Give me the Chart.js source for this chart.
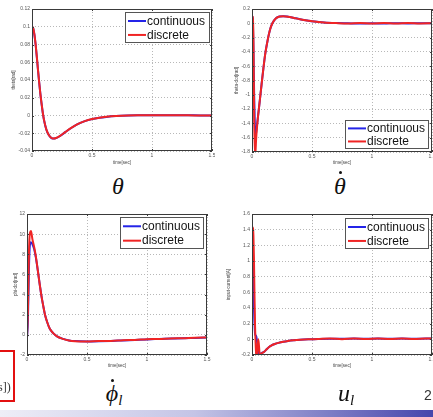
<!DOCTYPE html>
<html>
<head>
<meta charset="utf-8">
<script src="https://cdn.jsdelivr.net/npm/chart.js@4.4.1/dist/chart.umd.min.js"></script>
<style>
    body { margin: 0; width: 433px; height: 417px; position: relative; overflow: hidden; background: #fff; }
    canvas { position: absolute; }
    .sym { position: absolute; font-family: "Liberation Serif", "DejaVu Serif", serif; font-style: italic; font-size: 24px; color: #111; transform: translate(-50%, -50%); white-space: nowrap; }
    .sym sub { font-size: 15px; vertical-align: -4px; }
    .dot { position: absolute; width: 3px; height: 3px; border-radius: 50%; background: #111; }
    #bar { position: absolute; left: 0; top: 410px; width: 433px; height: 7px; background: linear-gradient(90deg, #eeeef7 0%, #c4c4e6 45%, #4646ac 100%); }
    #note { position: absolute; left: -12px; top: 350px; width: 23px; height: 48px; border: 2px solid #e31010; }
    #noteText { position: absolute; left: -2px; top: 380px; font-family: "Liberation Serif", serif; font-size: 12px; color: #333; }
    #page { position: absolute; left: 424px; top: 387px; font-family: "Liberation Sans", Arial, sans-serif; font-size: 14px; color: #333; }
</style>
</head>
<body>
<canvas id="c1" width="215" height="172" style="left:0;top:0"></canvas>
<canvas id="c2" width="217" height="172" style="left:216px;top:0"></canvas>
<canvas id="c3" width="215" height="172" style="left:0;top:200px"></canvas>
<canvas id="c4" width="217" height="172" style="left:216px;top:200px"></canvas>

<div class="sym" style="left:118px;top:186px">θ</div>
<div class="sym" style="left:340px;top:186px">θ</div>
<div class="dot" style="left:339px;top:171px"></div>
<div class="sym" style="left:114px;top:394px">ϕ<sub>l</sub></div>
<div class="dot" style="left:111px;top:379px"></div>
<div class="sym" style="left:346px;top:394px">u<sub>l</sub></div>
<div id="note"></div>
<div id="noteText">s])</div>
<div id="page">2</div>
<div id="bar"></div>

<script>
const seriesLabels = ["continuous", "discrete"];

// theta [rad]
const timeTheta = [0, 0.01, 0.02, 0.03, 0.04, 0.05, 0.06, 0.07, 0.08, 0.09, 0.1, 0.12, 0.14, 0.16, 0.18, 0.2, 0.24, 0.28, 0.33, 0.38, 0.44, 0.5, 0.56, 0.62, 0.7, 0.8, 0.9, 1.0, 1.1, 1.2, 1.3, 1.4, 1.5];
const thetaCont = [0.1, 0.098, 0.091, 0.08, 0.066, 0.051, 0.037, 0.024, 0.013, 0.003, -0.005, -0.016, -0.022, -0.0252, -0.026, -0.0255, -0.0225, -0.0185, -0.0138, -0.0098, -0.0064, -0.0041, -0.0026, -0.0016, -0.0007, -0.0001, 0.0002, 0.0004, 0.0004, 0.0003, 0.0002, 0.0001, 0.0];
const thetaDisc = [0.1, 0.0985, 0.0915, 0.0805, 0.0665, 0.0515, 0.0372, 0.0242, 0.0131, 0.0031, -0.0049, -0.0159, -0.0219, -0.0251, -0.0259, -0.0254, -0.0224, -0.0184, -0.0137, -0.0097, -0.0063, -0.004, -0.0025, -0.0015, -0.0006, 0.0, 0.0002, 0.0003, 0.0004, 0.0002, 0.0002, 0.0, 0.0];

// theta-dot
const timeThetaDot = [0, 0.006, 0.012, 0.018, 0.024, 0.029, 0.035, 0.042, 0.05, 0.065, 0.08, 0.095, 0.11, 0.13, 0.15, 0.17, 0.2, 0.23, 0.26, 0.3, 0.35, 0.4, 0.46, 0.52, 0.6, 0.7, 0.8, 0.9, 1.0, 1.1, 1.2, 1.3, 1.4, 1.5];
const thetaDotCont = [0.1, 0.07, -0.35, -1.0, -1.45, -1.57, -1.52, -1.42, -1.3, -1.08, -0.85, -0.63, -0.43, -0.24, -0.09, 0.0, 0.07, 0.095, 0.1, 0.092, 0.075, 0.058, 0.04, 0.025, 0.012, 0.004, 0.0, -0.004, 0.0, -0.003, 0.002, -0.002, 0.0, 0.0];
const thetaDotDisc = [0.1, 0.09, -0.2, -1.3, -1.85, -1.8, -1.6, -1.45, -1.31, -1.08, -0.85, -0.63, -0.43, -0.24, -0.09, 0.0, 0.07, 0.096, 0.1, 0.093, 0.075, 0.057, 0.04, 0.024, 0.012, 0.003, -0.003, 0.004, -0.004, 0.003, -0.003, 0.003, -0.002, 0.0];

// phi-dot
const timePhiDot = [0, 0.008, 0.016, 0.024, 0.033, 0.045, 0.06, 0.075, 0.09, 0.105, 0.12, 0.135, 0.15, 0.17, 0.19, 0.22, 0.25, 0.3, 0.35, 0.4, 0.5, 0.6, 0.7, 0.8, 0.9, 1.0, 1.1, 1.2, 1.3, 1.4, 1.5];
const phiDotCont = [-0.3, 1.5, 6.5, 8.9, 9.2, 9.0, 8.5, 7.6, 6.4, 5.1, 3.9, 2.9, 2.0, 1.2, 0.6, 0.15, -0.15, -0.4, -0.55, -0.62, -0.66, -0.64, -0.6, -0.55, -0.5, -0.45, -0.41, -0.37, -0.33, -0.3, -0.27];
const phiDotDisc = [-0.3, 2.5, 8.0, 10.1, 10.3, 9.5, 8.7, 7.7, 6.4, 5.1, 3.9, 2.9, 2.0, 1.2, 0.6, 0.15, -0.15, -0.4, -0.56, -0.63, -0.66, -0.62, -0.61, -0.53, -0.5, -0.43, -0.41, -0.35, -0.33, -0.28, -0.27];

// input current
const timeU = [0, 0.004, 0.008, 0.012, 0.016, 0.02, 0.025, 0.03, 0.035, 0.04, 0.046, 0.052, 0.058, 0.065, 0.072, 0.08, 0.09, 0.1, 0.12, 0.14, 0.16, 0.19, 0.22, 0.26, 0.3, 0.35, 0.4, 0.47, 0.55, 0.65, 0.75, 0.85, 0.95, 1.05, 1.15, 1.25, 1.35, 1.45, 1.5];
const uCont = [0.1, 0.97, 0.95, 0.8, 0.5, 0.25, 0.08, 0.05, 0.04, 0.0, -0.08, -0.15, -0.19, -0.19, -0.18, -0.175, -0.168, -0.16, -0.13, -0.1, -0.08, -0.06, -0.045, -0.03, -0.02, -0.012, -0.006, 0.0, 0.005, 0.008, 0.006, 0.01, 0.007, 0.01, 0.008, 0.01, 0.008, 0.01, 0.01];
const uDisc = [1.43, 1.43, 1.42, 1.32, 1.05, 0.65, 0.2, -0.05, -0.2, -0.25, -0.1, 0.0, -0.08, -0.2, -0.19, -0.18, -0.17, -0.16, -0.13, -0.1, -0.08, -0.06, -0.045, -0.03, -0.02, -0.012, -0.006, 0.0, 0.004, 0.01, 0.002, 0.012, 0.004, 0.011, 0.003, 0.012, 0.005, 0.011, 0.01];

const xRange = [0, 1.5, 0.5];
const blue = "#2424e8";
const red = "#f02424";
const tickFont = { family: "Liberation Sans, Arial, sans-serif", size: 5 };

// axes box with inward tick marks, like matlab
const framePlugin = {
    id: "frame",
    afterDatasetsDraw(chart) {
        const { ctx, chartArea: a, scales } = chart;
        ctx.save();
        ctx.strokeStyle = "#3a3a3a";
        ctx.lineWidth = 1;
        ctx.strokeRect(a.left + 0.5, a.top + 0.5, a.right - a.left - 1, a.bottom - a.top - 1);
        ctx.beginPath();
        scales.x.ticks.forEach((t) => {
            const px = Math.round(scales.x.getPixelForValue(t.value)) + 0.5;
            ctx.moveTo(px, a.bottom);
            ctx.lineTo(px, a.bottom - 2);
            ctx.moveTo(px, a.top);
            ctx.lineTo(px, a.top + 2);
        });
        scales.y.ticks.forEach((t) => {
            const py = Math.round(scales.y.getPixelForValue(t.value)) + 0.5;
            ctx.moveTo(a.left, py);
            ctx.lineTo(a.left + 2, py);
            ctx.moveTo(a.right, py);
            ctx.lineTo(a.right - 2, py);
        });
        ctx.stroke();
        ctx.restore();
    },
};

// legend drawn inside the axes
const legendPlugin = {
    id: "legendBox",
    afterDraw(chart, args, opts) {
        const { ctx } = chart;
        const { x, y, w, h } = opts;
        ctx.save();
        ctx.fillStyle = "#fff";
        ctx.fillRect(x, y, w, h);
        ctx.strokeStyle = "#555";
        ctx.lineWidth = 1;
        ctx.strokeRect(x + 0.5, y + 0.5, w - 1, h - 1);
        ctx.font = "12px 'Liberation Sans', Arial, sans-serif";
        ctx.textBaseline = "middle";
        chart.data.datasets.forEach((ds, i) => {
            const cy = y + h * (i === 0 ? 0.29 : 0.74);
            ctx.strokeStyle = ds.borderColor;
            ctx.lineWidth = 2;
            ctx.beginPath();
            ctx.moveTo(x + 3, cy);
            ctx.lineTo(x + 21, cy);
            ctx.stroke();
            ctx.fillStyle = "#151515";
            ctx.fillText(ds.label, x + 22, cy + 0.5);
        });
        ctx.restore();
    },
};

const fmt = (v) => String(Math.round(v * 1000) / 1000);

function makeChart(id, p) {
    const toPts = (arr) => p.t.map((x, i) => ({ x, y: arr[i] }));
    return new Chart(document.getElementById(id), {
        type: "line",
        data: {
            datasets: [
                { label: seriesLabels[0], data: toPts(p.cont), borderColor: blue, borderWidth: 2, pointRadius: 0, cubicInterpolationMode: "monotone", order: 2 },
                { label: seriesLabels[1], data: toPts(p.disc), borderColor: red, borderWidth: 2, pointRadius: 0, cubicInterpolationMode: "monotone", order: 1 },
            ],
        },
        options: {
            responsive: false,
            animation: false,
            devicePixelRatio: 1,
            layout: { padding: { left: 0, top: p.area.t, right: p.w - p.area.r, bottom: 0 } },
            plugins: { legend: { display: false }, tooltip: { enabled: false }, legendBox: p.legend },
            scales: {
                x: {
                    type: "linear",
                    min: xRange[0],
                    max: xRange[1],
                    ticks: { stepSize: xRange[2], font: tickFont, color: "#555", padding: 2, maxRotation: 0, autoSkip: false, callback: fmt },
                    grid: { color: "#b8b8b8", drawTicks: false },
                    border: { display: false, dash: [1, 2] },
                    title: { display: true, text: "time[sec]", font: { family: "Liberation Sans, Arial", size: 4.5 }, color: "#444", padding: { top: 0, bottom: p.xTitlePad } },
                    afterFit: (s) => {
                        s.height = p.h - p.area.b;
                        s.paddingLeft = 0;
                        s.paddingRight = 0;
                    },
                },
                y: {
                    type: "linear",
                    min: p.yRange[0],
                    max: p.yRange[1],
                    ticks: { stepSize: p.yRange[2], font: tickFont, color: "#555", padding: 2, autoSkip: false, callback: fmt },
                    grid: { color: "#b8b8b8", drawTicks: false },
                    border: { display: false, dash: [1, 2] },
                    title: { display: true, text: p.yTitle, font: { family: "Liberation Sans, Arial", size: 4.5 }, color: "#444", padding: { top: p.yTitleX - 2.7, bottom: 0 } },
                    afterFit: (s) => {
                        s.width = p.area.l;
                        s.paddingTop = 0;
                        s.paddingBottom = 0;
                    },
                },
            },
        },
        plugins: [framePlugin, legendPlugin],
    });
}

makeChart("c1", {
    t: timeTheta, cont: thetaCont, disc: thetaDisc,
    w: 215, h: 172, area: { l: 32, r: 212, t: 9, b: 151 },
    yRange: [-0.04, 0.12, 0.02], yTitle: "theta[rad]", yTitleX: 14, xTitlePad: 6.3,
    legend: { x: 125, y: 12, w: 85, h: 31 },
});
makeChart("c2", {
    t: timeThetaDot, cont: thetaDotCont, disc: thetaDotDisc,
    w: 217, h: 172, area: { l: 36, r: 216, t: 9, b: 152 },
    yRange: [-1.8, 0.2, 0.2], yTitle: "theta-dot[rad]", yTitleX: 21, xTitlePad: 6.3,
    legend: { x: 129, y: 120, w: 84, h: 29 },
});
makeChart("c3", {
    t: timePhiDot, cont: phiDotCont, disc: phiDotDisc,
    w: 215, h: 172, area: { l: 27, r: 207, t: 14, b: 155 },
    yRange: [-2, 12, 2], yTitle: "phi-dot[rad]", yTitleX: 16, xTitlePad: 3.3,
    legend: { x: 120, y: 17, w: 84, h: 32 },
});
makeChart("c4", {
    t: timeU, cont: uCont, disc: uDisc,
    w: 217, h: 172, area: { l: 36, r: 216, t: 14, b: 155 },
    yRange: [-0.2, 1.6, 0.2], yTitle: "input-current[A]", yTitleX: 13, xTitlePad: 3.3,
    legend: { x: 129, y: 18, w: 84, h: 31 },
});
</script>
</body>
</html>
